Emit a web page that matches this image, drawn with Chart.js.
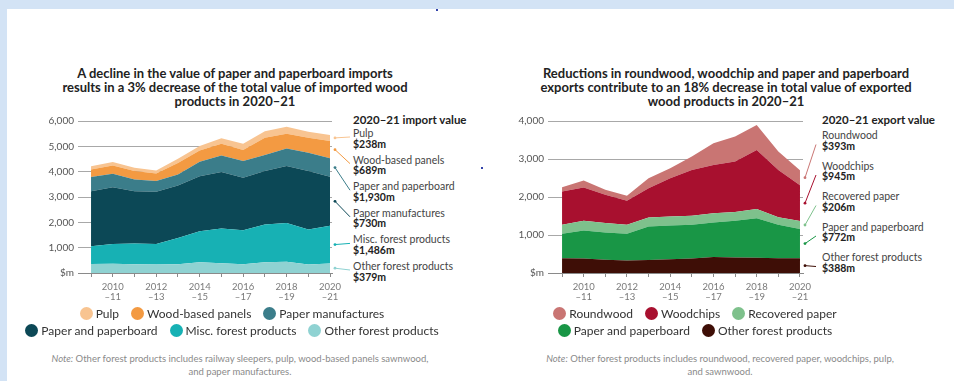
<!DOCTYPE html>
<html>
<head>
<meta charset="utf-8">
<script src="https://cdn.jsdelivr.net/npm/chart.js@4"></script>
<style>
  body { margin: 0; width: 954px; height: 381px; background: #d3e3f5; font-family: Lato, "Open Sans", sans-serif; overflow: hidden; position: relative; }
  #sheet { position: absolute; left: 7px; top: 9px; right: 0; bottom: 0; background: #fff; }
  .title { position: absolute; width: 460px; text-align: center; font-weight: 700; font-size: 13px; line-height: 14px; color: #222; }
  .box { position: absolute; }
  .note-head { position: absolute; font-weight: 700; font-size: 11.5px; color: #222; white-space: nowrap; }
  .note-name { position: absolute; font-size: 10.5px; color: #444; white-space: nowrap; }
  .note-val { position: absolute; font-weight: 700; font-size: 10.5px; color: #222; white-space: nowrap; }
  .legend-row { position: absolute; width: 500px; text-align: center; font-size: 12px; color: #333; white-space: nowrap; }
  .legend-row span.item { display: inline-flex; align-items: center; margin: 0 6px; }
  .legend-row i { display: inline-block; width: 13px; height: 13px; border-radius: 50%; margin-right: 3px; }
  .foot { position: absolute; width: 460px; text-align: center; font-size: 9.5px; line-height: 13px; color: #8a8a8a; }
  .speck { position: absolute; width: 2px; height: 2px; background: #3344aa; }
</style>
</head>
<body>
<div id="sheet"></div>
<div class="speck" style="left:436px;top:9px"></div>
<div class="speck" style="left:481px;top:167px"></div>

<div class="title" style="left:5px;top:66px">A decline in the value of paper and paperboard imports<br>results in a 3% decrease of the total value of imported wood<br>products in 2020–21</div>
<div class="title" style="left:496px;top:66px">Reductions in roundwood, woodchip and paper and paperboard<br>exports contribute to an 18% decrease in total value of exported<br>wood products in 2020–21</div>

<div class="box" style="left:0;top:100px;width:352px;height:210px"><canvas id="importChart" width="352" height="210"></canvas></div>
<div class="box" style="left:470px;top:100px;width:352px;height:210px"><canvas id="exportChart" width="352" height="210"></canvas></div>

<div class="foot" style="left:10px;top:352px"><i>Note:</i> Other forest products includes railway sleepers, pulp, wood-based panels sawnwood,<br>and paper manufactures.</div>
<div class="foot" style="left:490px;top:352px"><i>Note:</i> Other forest products includes roundwood, recovered paper, woodchips, pulp,<br>and sawnwood.</div>

<script>
const years = ['2009–10', '2010–11', '2011–12', '2012–13', '2013–14', '2014–15',
  '2015–16', '2016–17', '2017–18', '2018–19', '2019–20', '2020–21'];

// Imports, $m, listed from the bottom of the stack upwards
const importNames = ['Other forest products', 'Misc. forest products', 'Paper and paperboard',
  'Paper manufactures', 'Wood-based panels', 'Pulp'];
const importOther = [360, 365, 350, 340, 350, 420, 380, 350, 420, 440, 340, 379];
const importMisc = [695, 782, 810, 807, 1035, 1228, 1374, 1338, 1492, 1538, 1374, 1486];
const importPaper = [2176, 2242, 2071, 2057, 2070, 2176, 2229, 2070, 2110, 2242, 2308, 1930];
const importManuf = [554, 528, 461, 423, 435, 567, 659, 660, 633, 699, 725, 730];
const importPanels = [303, 329, 330, 303, 450, 449, 462, 435, 686, 580, 594, 689];
const importPulp = [130, 140, 130, 120, 170, 170, 220, 250, 250, 270, 230, 238];
const importColors = ['#8fd2d2', '#17b1b4', '#0c4856', '#3b7d8a', '#f39a42', '#f8c491'];

// Exports, $m, bottom of the stack upwards
const exportNames = ['Other forest products', 'Paper and paperboard', 'Recovered paper',
  'Woodchips', 'Roundwood'];
const exportOther = [390, 380, 350, 330, 340, 360, 380, 420, 410, 400, 390, 388];
const exportPaper = [643, 740, 718, 703, 885, 892, 889, 910, 964, 1044, 879, 772];
const exportRecovered = [236, 254, 245, 236, 237, 236, 236, 245, 228, 237, 201, 206];
const exportChips = [875, 876, 744, 630, 770, 1007, 1208, 1269, 1330, 1558, 1243, 945];
const exportRoundwood = [114, 183, 131, 132, 263, 262, 350, 570, 657, 656, 482, 393];
const exportColors = ['#3e0e06', '#199646', '#7ec18c', '#a8102f', '#c97573'];

function stackSets(names, series, colors) {
  return series.map((vals, i) => ({
    label: names[i],
    data: vals.map((v, j) => ({ x: j, y: v })),
    backgroundColor: colors[i],
    borderWidth: 0,
    pointRadius: 0,
    fill: i === 0 ? 'origin' : '-1',
    tension: 0
  }));
}

// short pointer lines from the 2020-21 edge of each band to its caption
const leaderLines = {
  id: 'leaderLines',
  afterDatasetsDraw(chart, args, opts) {
    const { ctx, chartArea, scales: { y } } = chart;
    const sets = chart.data.datasets;
    const last = sets[0].data.length - 1;
    let top = sets.reduce((s, d) => s + d.data[last].y, 0);
    ctx.save();
    ctx.lineWidth = 1;
    for (let i = sets.length - 1, k = 0; i >= 0; i--, k++) {
      const v = sets[i].data[last].y;
      const y0 = y.getPixelForValue(top - v / 2);
      top -= v;
      const x0 = chartArea.right + opts.gap;
      const x1 = chartArea.right + opts.reach;
      ctx.strokeStyle = ctx.fillStyle = sets[i].backgroundColor;
      ctx.beginPath();
      ctx.moveTo(x0, y0);
      ctx.lineTo(x1, opts.ends[k]);
      ctx.stroke();
      ctx.beginPath();
      ctx.arc(x0, y0, 1.4, 0, Math.PI * 2);
      ctx.fill();
    }
    ctx.restore();
  }
};

function makeChart(id, sets, o) {
  return new Chart(document.getElementById(id), {
    type: 'line',
    data: { datasets: sets },
    plugins: [leaderLines],
    options: {
      responsive: false,
      animation: false,
      layout: { padding: { top: 21, right: o.padRight, left: 0, bottom: 0 } },
      plugins: {
        legend: { display: false },
        tooltip: { enabled: false },
        leaderLines: { gap: o.gap, reach: o.reach, ends: o.ends }
      },
      scales: {
        x: {
          type: 'linear',
          min: o.xmin,
          max: o.xmax,
          afterBuildTicks: s => { s.ticks = years.map((_, i) => ({ value: i })); },
          afterFit: s => { s.height = 37; },
          grid: { drawOnChartArea: false, drawTicks: true, tickLength: 4, color: '#8a8a8a' },
          border: { color: '#8a8a8a' },
          ticks: {
            autoSkip: false,
            maxRotation: 0,
            padding: 5,
            color: '#7a7a7a',
            font: { family: 'Lato', size: 9.5, lineHeight: 1.05 },
            callback: v => v % 2 === 1 ? [years[v].slice(0, 4), '–' + years[v].slice(5)] : ''
          }
        },
        y: {
          stacked: true,
          min: 0,
          max: o.ymax,
          afterFit: s => { s.width = 78; },
          border: { display: false },
          grid: { color: '#a8a8a8', drawTicks: false },
          ticks: {
            stepSize: 1000,
            padding: 4,
            color: '#555',
            font: { family: 'Lato', size: 10 },
            callback: v => v === 0 ? '$m' : v.toLocaleString('en-US')
          }
        }
      }
    }
  });
}

// caption block to the right of each chart
function captions(left, head, names, values, firstY, step) {
  const h = document.createElement('div');
  h.className = 'note-head';
  h.style.left = left + 'px';
  h.style.top = '113px';
  h.textContent = head;
  document.body.appendChild(h);
  names.forEach((n, k) => {
    const cy = firstY + k * step;
    const a = document.createElement('div');
    a.className = 'note-name';
    a.style.left = left + 'px';
    a.style.top = (cy - 7) + 'px';
    a.textContent = n;
    const b = document.createElement('div');
    b.className = 'note-val';
    b.style.left = left + 'px';
    b.style.top = (cy + 3.5) + 'px';
    b.textContent = '$' + values[k].toLocaleString('en-US') + 'm';
    document.body.appendChild(a);
    document.body.appendChild(b);
  });
}

function legend(centerX, rowTops, names, colors) {
  const items = names.map((n, i) => ({ n, c: colors[i] })).reverse();
  rowTops.forEach((top, r) => {
    const row = document.createElement('div');
    row.className = 'legend-row';
    row.style.left = (centerX - 250) + 'px';
    row.style.top = top + 'px';
    items.slice(r * 3, r * 3 + 3).forEach(it => {
      const s = document.createElement('span');
      s.className = 'item';
      s.innerHTML = '<i style="background:' + it.c + '"></i>' + it.n;
      row.appendChild(s);
    });
    document.body.appendChild(row);
  });
}

const importSeries = [importOther, importMisc, importPaper, importManuf, importPanels, importPulp];
const exportSeries = [exportOther, exportPaper, exportRecovered, exportChips, exportRoundwood];

const lastOf = series => series.map(s => s[s.length - 1]).reverse();

// caption order in the side panel (reads top to bottom)
const importCaptionNames = ['Pulp', 'Wood-based panels', 'Paper and paperboard',
  'Paper manufactures', 'Misc. forest products', 'Other forest products'];
const importCaptionValues = [importPulp, importPanels, importPaper, importManuf, importMisc, importOther]
  .map(s => s[s.length - 1]);
const exportCaptionNames = exportNames.slice().reverse();
const exportCaptionValues = lastOf(exportSeries);

const impFirst = 134, impStep = 26.6;
const expFirst = 136, expStep = 30.5;

captions(353, '2020–21 import value', importCaptionNames, importCaptionValues, impFirst, impStep);
captions(822, '2020–21 export value', exportCaptionNames, exportCaptionValues, expFirst, expStep);

makeChart('importChart', stackSets(importNames, importSeries, importColors), {
  xmin: -0.6, xmax: 11.09, ymax: 6000, padRight: 20, gap: 3, reach: 18,
  ends: importCaptionNames.map((_, k) => impFirst + k * impStep + 3 - 100)
});
makeChart('exportChart', stackSets(exportNames, exportSeries, exportColors), {
  xmin: -0.65, xmax: 11.14, ymax: 4000, padRight: 19, gap: 2, reach: 13,
  ends: exportCaptionNames.map((_, k) => expFirst + k * expStep + 8.5 - 100)
});

legend(232, [306, 323], importNames, importColors);
legend(695, [306, 323], exportNames, exportColors);
</script>
</body>
</html>
